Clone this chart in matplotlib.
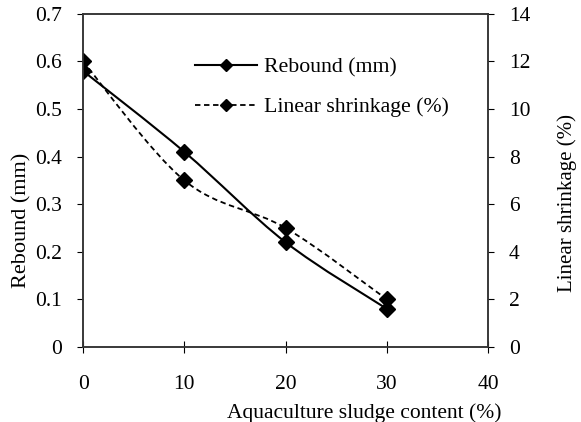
import matplotlib.pyplot as plt
from matplotlib.path import Path
from matplotlib.patches import PathPatch
from matplotlib.lines import Line2D

plt.rcParams['font.family'] = ['Liberation Serif', 'DejaVu Serif']

# data
sludge = [0, 10, 20, 30]
rebound = [0.58, 0.41, 0.22, 0.08]
shrinkage = [12, 7, 5, 2]


def smooth_path(xs, ys, t=1/6.0):
    # Excel-like smoothed line: cubic bezier through the points
    pts = list(zip(xs, ys))
    verts = [pts[0]]
    codes = [Path.MOVETO]
    n = len(pts)
    for i in range(n - 1):
        p0 = pts[i - 1] if i > 0 else pts[i]
        p1 = pts[i]
        p2 = pts[i + 1]
        p3 = pts[i + 2] if i + 2 < n else pts[i + 1]
        c1 = (p1[0] + (p2[0] - p0[0]) * t, p1[1] + (p2[1] - p0[1]) * t)
        c2 = (p2[0] - (p3[0] - p1[0]) * t, p2[1] - (p3[1] - p1[1]) * t)
        verts += [c1, c2, p2]
        codes += [Path.CURVE4] * 3
    return Path(verts, codes)


fig = plt.figure(figsize=(5.81, 4.22), dpi=100)
ax1 = fig.add_axes([0.143, 0.178, 0.697, 0.789])
ax2 = ax1.twinx()

ax1.add_patch(PathPatch(smooth_path(sludge, rebound), fill=False,
                        edgecolor='black', lw=1.5))
ax1.plot(sludge, rebound, ls='none', color='black', marker='D', ms=8.5)
ax2.add_patch(PathPatch(smooth_path(sludge, shrinkage), fill=False,
                        edgecolor='black', lw=1.3, ls=(0, (3, 2))))
ax2.plot(sludge, shrinkage, ls='none', color='black', marker='D', ms=8.5)

ax1.set_xlim(0, 40)
ax1.set_ylim(0, 0.7)
ax2.set_ylim(0, 14)
ax1.set_xticks([0, 10, 20, 30, 40])
ax1.set_yticks([0, 0.1, 0.2, 0.3, 0.4, 0.5, 0.6, 0.7])
ax1.set_yticklabels(['0', '0.1', '0.2', '0.3', '0.4', '0.5', '0.6', '0.7'])
ax2.set_yticks([0, 2, 4, 6, 8, 10, 12, 14])

ax1.tick_params(axis='x', direction='inout', length=8, labelsize=15.5, pad=16)
ax1.tick_params(axis='y', direction='out', length=4, labelsize=15.5, pad=11)
ax2.tick_params(axis='y', direction='out', length=4, labelsize=15.5, pad=11)

for ax in (ax1, ax2):
    for s in ax.spines.values():
        s.set_linewidth(1.1)
        s.set_color('#333333')

ax1.set_xlabel('Aquaculture sludge content (%)', fontsize=15.5)
ax1.xaxis.set_label_coords(0.694, -0.168)
ax1.set_ylabel('Rebound (mm)', fontsize=16)
ax1.yaxis.set_label_coords(-0.128, 0.381)
ax2.set_ylabel('Linear shrinkage (%)', fontsize=15)
ax2.yaxis.set_label_coords(1.17, 0.431)

h1 = Line2D([], [], color='black', lw=1.5, marker='D', ms=6)
h2 = Line2D([], [], color='black', lw=1.3, ls=(0, (3, 2)), marker='D', ms=6)
ax1.legend([h1, h2], ['Rebound (mm)', 'Linear shrinkage (%)'], frameon=False,
           fontsize=15.7, loc='upper left', bbox_to_anchor=(0.277, 0.87),
           borderpad=0, borderaxespad=0, handlelength=2.85,
           labelspacing=0.89, handletextpad=0.3)

fig.savefig('out.png', dpi=100)
